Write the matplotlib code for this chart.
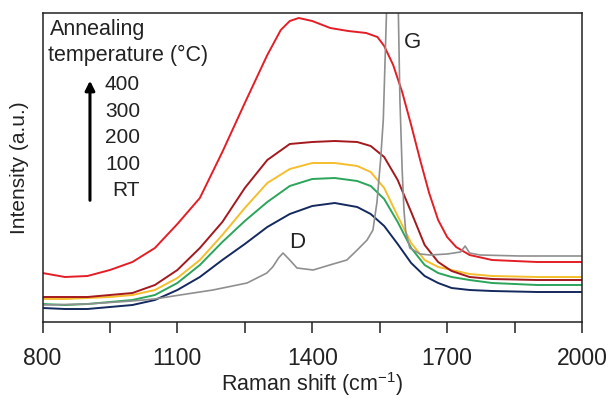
import numpy as np
import matplotlib
matplotlib.use('Agg')
import matplotlib.pyplot as plt

plt.rcParams['font.family'] = ['Liberation Sans', 'DejaVu Sans']
plt.rcParams['mathtext.fontset'] = 'custom'
plt.rcParams['mathtext.rm'] = 'Liberation Sans'
plt.rcParams['mathtext.it'] = 'Liberation Sans'

# Raman spectra (intensity in arbitrary units)
x_rt = [800, 899, 999, 1049, 1106, 1179, 1255, 1299, 1312, 1325, 1335, 1350, 1366, 1402,
        1439, 1477, 1500, 1522, 1535, 1544, 1552, 1558, 1562, 1566, 1572, 1580, 1587,
        1591, 1595, 1600, 1604, 1608, 1617, 1640, 1662, 1700, 1730, 1740, 1750, 1773,
        1862, 2000]
y_rt = [15, 16, 19, 21, 25, 30, 37, 47, 53, 62, 67, 60, 52, 50,
        55, 60, 70, 80, 90, 118, 160, 200, 260, 320, 400, 430, 400,
        320, 220, 150, 110, 88, 72, 66, 65, 66, 68, 74, 67, 65,
        64, 64]

x_ann = [800, 850, 900, 950, 1000, 1050, 1100, 1150, 1200, 1250, 1300, 1350, 1400, 1450,
         1500, 1530, 1560, 1590, 1620, 1650, 1680, 1710, 1750, 1800, 1900, 2000]
y_100 = [12, 11, 11, 13, 15, 20, 30, 43, 60, 76, 93, 106, 114, 117,
         113, 106, 94, 76, 57, 44, 37, 32, 30, 29, 28, 28]
y_200 = [16, 15, 16, 18, 20, 25, 37, 55, 78, 99, 118, 134, 141, 142,
         139, 134, 121, 98, 72, 55, 47, 43, 40, 37, 35, 35]
y_300 = [21, 21, 22, 23, 25, 30, 42, 60, 85, 112, 137, 151, 157, 157,
         154, 148, 132, 104, 77, 60, 53, 50, 46, 44, 43, 43]
y_400 = [23, 23, 23, 25, 27, 35, 50, 72, 98, 132, 160, 176, 178, 179,
         178, 174, 163, 140, 108, 75, 58, 49, 43, 41, 40, 40]

x_top = [800, 850, 900, 950, 1000, 1050, 1100, 1150, 1200, 1250, 1300, 1330, 1350, 1370,
         1400, 1440, 1480, 1520, 1545, 1560, 1580, 1600, 1620, 1640, 1660, 1680, 1700,
         1720, 1750, 1800, 1900, 2000]
y_top = [47, 43, 44, 50, 58, 72, 96, 122, 168, 217, 265, 290, 299, 302,
         299, 292, 289, 287, 283, 274, 255, 228, 195, 160, 127, 100, 83,
         73, 65, 60, 58, 58]

ticks_major = [800, 1100, 1400, 1700, 2000]
ticks_minor = [950, 1250, 1550, 1850]
temps = ['400', '300', '200', '100', 'RT']

fig = plt.figure(figsize=(6.11, 3.99), dpi=100)
ax = fig.add_axes([42.5 / 611, 1 - 322 / 399, 539.5 / 611, 309 / 399])

ax.plot(x_ann, y_100, color='#14295E', lw=1.4)
ax.plot(x_ann, y_200, color='#2BA55A', lw=1.4)
ax.plot(x_ann, y_300, color='#F5BE2C', lw=1.4)
ax.plot(x_ann, y_400, color='#A3191E', lw=1.4)
ax.plot(x_top, y_top, color='#E41E26', lw=1.4)
ax.plot(x_rt, y_rt, color='#8F8F8F', lw=1.2)

ax.set_xlim(800, 2000)
ax.set_ylim(-2, 307)
ax.set_xticks(ticks_major)
ax.set_xticks(ticks_minor, minor=True)
ax.set_yticks([])
ax.tick_params(axis='x', which='both', direction='out', length=8, width=1.1,
               color='#222222', labelsize=16.5, pad=10, labelcolor='#222222')
for s in ax.spines.values():
    s.set_color('#222222')
    s.set_linewidth(1.1)

ax.set_xlabel('Raman shift (cm$^{-1}$)', fontsize=15.5, color='#222222')
ax.xaxis.set_label_coords(0.5, -0.157)
ax.set_ylabel('Intensity (a.u.)', fontsize=15, color='#222222', labelpad=10)

ax.text(1624, 278, 'G', fontsize=16, color='#222222', ha='center', va='center')
ax.text(1366, 78, 'D', fontsize=16, color='#222222', ha='center', va='center')

ax.text(0.014, 0.945, 'Annealing', transform=ax.transAxes, fontsize=15.5,
        color='#222222', va='center')
ax.text(0.010, 0.862, 'temperature (°C)', transform=ax.transAxes, fontsize=15.5,
        color='#222222', va='center')
ty = [0.767, 0.681, 0.597, 0.511, 0.427]
for lab, yy in zip(temps, ty):
    xx = 0.1288 if lab == 'RT' else 0.1158
    ax.text(xx, yy, lab, transform=ax.transAxes, fontsize=15, color='#222222', va='center')
ax.annotate('', xy=(0.088, 0.79), xytext=(0.088, 0.385), xycoords='axes fraction',
            arrowprops=dict(arrowstyle='-|>', lw=2.2, color='black', mutation_scale=14))

fig.savefig('out.png', dpi=100)
